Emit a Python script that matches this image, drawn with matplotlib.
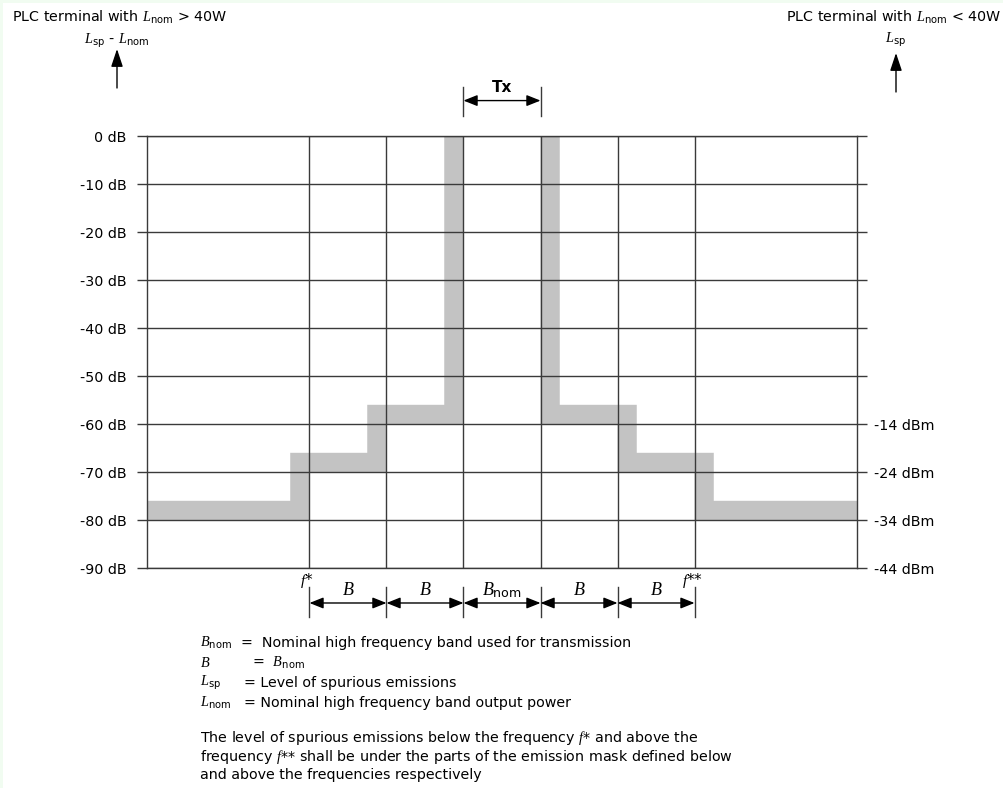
import numpy as np
import matplotlib
matplotlib.use("Agg")
import matplotlib.pyplot as plt
from matplotlib.patches import Rectangle, FancyArrowPatch

plt.rcParams['font.family'] = ['DejaVu Sans']
plt.rcParams['mathtext.fontset'] = 'custom'
plt.rcParams['mathtext.rm'] = 'DejaVu Sans'
plt.rcParams['mathtext.it'] = 'Liberation Serif:italic'

# --- data ---
seg_edges = [-2.5, -1.5, -0.5, 0.5, 1.5, 2.5]        # f*, ..., f** (in units of B)
mask_db = [-80, -70, -60, 0, -60, -70, -80]           # level per segment, outer left -> outer right
band_labels = [r'$B$', r'$B$', r'$B_{\mathrm{nom}}$', r'$B$', r'$B$']
db_ticks = [0, -10, -20, -30, -40, -50, -60, -70, -80, -90]
db_labels = [f'{v} dB' for v in db_ticks]
dbm_ticks = [-60, -70, -80, -90]
dbm_labels = ['-14 dBm', '-24 dBm', '-34 dBm', '-44 dBm']
x_span = 4.61
band_dx, band_dy = 0.25, 4

W, H = 1004, 788
GRID = '#3a3a3a'
FS = 10.3


def px(x, y):
    return x / W, 1 - y / H


def step_points(edges, levels, x0, x1):
    xs, ys = [x0], [levels[0]]
    for e, a, b in zip(edges, levels[:-1], levels[1:]):
        xs += [e, e]
        ys += [a, b]
    xs.append(x1)
    ys.append(levels[-1])
    return np.array(xs, float), np.array(ys, float)


fig = plt.figure(figsize=(W / 100, H / 100), dpi=100, facecolor='#f1fcf1')
fig.patches.append(Rectangle((3 / W, 0), 1, 1 - 3 / H, transform=fig.transFigure,
                             facecolor='white', edgecolor='none', zorder=-5))

l, b = px(147, 568)
ax = fig.add_axes([l, b, 710 / W, 432 / H])
ax.set_xlim(-x_span, x_span)
ax.set_ylim(-90, 0)

# gray emission mask band
top = 0 + band_dy
lx, ly = step_points(seg_edges[:3], mask_db[:3] + [top], -x_span - 1, seg_edges[2])
rx, ry = step_points(seg_edges[3:], [top] + mask_db[4:], seg_edges[3], x_span + 1)
for xs, ys, sx in [(lx, ly, -band_dx), (rx, ry, band_dx)]:
    poly_x = np.concatenate([xs, (xs + sx)[::-1]])
    poly_y = np.concatenate([ys, (ys + band_dy)[::-1]])
    ax.fill(poly_x, poly_y, color='#c3c3c3', lw=0, zorder=1)

# grid
ax.set_xticks(seg_edges)
ax.set_yticks(db_ticks)
ax.set_yticklabels(db_labels)
ax.grid(True, color=GRID, lw=1.0, zorder=2)
ax.set_axisbelow(False)
ax.tick_params(axis='x', length=0, labelbottom=False)
ax.tick_params(axis='y', direction='out', length=7.5, width=1.0, color=GRID,
               pad=7, labelsize=FS)
for s in ax.spines.values():
    s.set_color(GRID)
    s.set_linewidth(1.0)

ax2 = ax.twinx()
ax2.set_ylim(-90, 0)
ax2.set_yticks(db_ticks)
ax2.set_yticklabels([dbm_labels[dbm_ticks.index(v)] if v in dbm_ticks else '' for v in db_ticks])
ax2.tick_params(axis='y', direction='out', length=7.5, width=1.0, color=GRID,
                pad=5, labelsize=FS)
for s in ax2.spines.values():
    s.set_visible(False)

# dimension arrows below the chart
arrow = dict(arrowstyle='<|-|>,head_length=0.7,head_width=0.28', mutation_scale=12,
             color='black', lw=1.0, shrinkA=0, shrinkB=0)
tc = ('data', 'axes fraction')
xt = ax.get_xaxis_transform()
for e in seg_edges:
    ax.plot([e, e], [-0.044, -0.113], transform=xt, color=GRID, lw=1.0, clip_on=False)
for a, c, lab in zip(seg_edges[:-1], seg_edges[1:], band_labels):
    ax.annotate('', xy=(a, -0.081), xytext=(c, -0.081), xycoords=tc, textcoords=tc,
                arrowprops=arrow)
    ax.text((a + c) / 2, -0.052, lab, transform=xt, ha='center', va='center', fontsize=13)
ax.text(seg_edges[0] - 0.03, -0.030, r'$f$*', transform=xt, ha='center', va='center', fontsize=11)
ax.text(seg_edges[-1] - 0.03, -0.030, r'$f$**', transform=xt, ha='center', va='center', fontsize=11)

# Tx arrow above the chart
for e in seg_edges[2:4]:
    ax.plot([e, e], [1.114, 1.046], transform=xt, color=GRID, lw=1.0, clip_on=False)
ax.annotate('', xy=(seg_edges[2], 1.082), xytext=(seg_edges[3], 1.082),
            xycoords=tc, textcoords=tc, arrowprops=arrow)
ax.text(0, 1.113, 'Tx', transform=xt, ha='center', va='center', fontsize=11, fontweight='bold')

# axis titles and vertical arrows
fig.text(*px(12, 17), r'PLC terminal with $L_{\mathrm{nom}}$ > 40W', ha='left', va='center', fontsize=FS)
fig.text(*px(1001, 17), r'PLC terminal with $L_{\mathrm{nom}}$ < 40W', ha='right', va='center', fontsize=FS)
fig.text(*px(117, 41), r'$L_{\mathrm{sp}}$ - $L_{\mathrm{nom}}$', ha='center', va='center', fontsize=FS)
fig.text(*px(896, 40), r'$L_{\mathrm{sp}}$', ha='center', va='center', fontsize=FS)
for xp, y0, y1 in [(117, 88, 49), (896, 92, 53)]:
    fig.add_artist(FancyArrowPatch(
        px(xp, y0), px(xp, y1), transform=fig.transFigure,
        arrowstyle='-|>,head_length=0.9,head_width=0.3', mutation_scale=12,
        color='black', lw=1.0, shrinkA=0, shrinkB=0))

# legend / notes
notes = [
    (r'$B_{\mathrm{nom}}$', 241, '=  Nominal high frequency band used for transmission', 643),
    (r'$B$', 252, r'=  $B_{\mathrm{nom}}$', 663),
    (r'$L_{\mathrm{sp}}$', 244, '= Level of spurious emissions', 683),
    (r'$L_{\mathrm{nom}}$', 244, '= Nominal high frequency band output power', 703),
]
for sym, xe, txt, yp in notes:
    fig.text(*px(200, yp), sym, ha='left', va='center', fontsize=FS)
    fig.text(*px(xe, yp), txt, ha='left', va='center', fontsize=FS)

para = [
    r'The level of spurious emissions below the frequency $f$* and above the',
    r'frequency $f$** shall be under the parts of the emission mask defined below',
    'and above the frequencies respectively',
]
for line, yp in zip(para, [738, 757, 775]):
    fig.text(*px(200, yp), line, ha='left', va='center', fontsize=FS)

fig.savefig('out.png', dpi=100, facecolor=fig.get_facecolor())
